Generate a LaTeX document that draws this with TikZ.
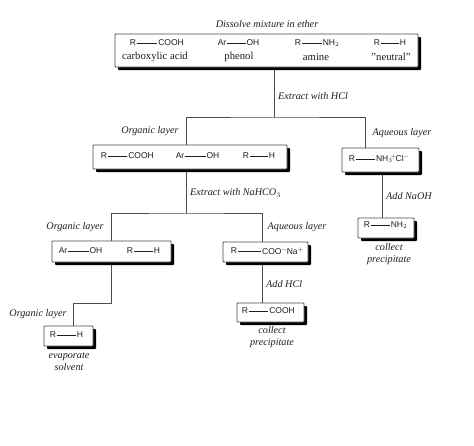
\documentclass[tikz,border=0pt]{standalone}
\usepackage{fontspec}
\setmainfont{Liberation Serif}
\setsansfont{Liberation Sans}
\usetikzlibrary{shadows,backgrounds,calc}
\definecolor{ink}{gray}{0.12}
\definecolor{wire}{gray}{0.3}
\tikzset{
  panel/.style={draw=wire,line width=0.9pt,fill=white,inner sep=0pt,rounded corners=0.8pt,
    drop shadow={shadow xshift=3pt,shadow yshift=-3pt,fill=black,opacity=1}},
  chem/.style={font=\sffamily\fontsize{8.5}{10}\selectfont,text=ink,inner sep=0.6pt},
  plain/.style={font=\fontsize{10.7}{12}\selectfont,text=ink,inner sep=0pt},
  note/.style={font=\itshape\fontsize{10.2}{12}\selectfont,text=ink,inner sep=0pt},
  notel/.style={note,anchor=west},
  bond/.style={draw=ink,line width=0.7pt},
  wirel/.style={draw=wire,line width=0.9pt}
}
% box: name, left, top, right, bottom
\newcommand{\panelbox}[5]{\path let \n1={#4-#2},\n2={#5-#3} in node[panel,minimum width=\n1 pt,minimum height=\n2 pt] (#1) at ({(#2+#4)/2},{(#3+#5)/2}) {};}
% formula: name, y, xL, textL, xR, textR
\newcommand{\formula}[6]{\node[chem] (#1L) at (#3,#2) {#4};\node[chem] (#1R) at (#5,#2) {#6};\draw[bond] (#1L.east) -- (#1R.west);}
\begin{document}
\begin{tikzpicture}[x=1pt,y=-1pt]
\useasboundingbox (0,0) rectangle (474,445);
\panelbox{a}{115}{34}{418}{67}
\panelbox{b}{93}{145}{287}{169}
\panelbox{c}{342}{148}{419}{172}
\panelbox{d}{358}{218}{414}{238}
\panelbox{e}{52}{241}{171}{262}
\panelbox{f}{223}{242}{308}{262}
\panelbox{g}{237}{303}{304}{322}
\panelbox{h}{44}{326}{93}{346}
\coordinate (j1) at (274,117);
\coordinate (j2) at (186,213);
\coordinate (j3) at (111,303);
\coordinate (xc) at (365,0);
\coordinate (xf) at (262,0);
\coordinate (xd) at (382,0);
\coordinate (xh) at (73,0);
\begin{scope}[on background layer]
\fill[white] (0,0) rectangle (474,445);
\draw[wirel] (a.south -| j1) -- (j1);
\draw[wirel] (b.north -| j2) |- (j1) -| (c.north -| xc);
\draw[wirel] (b.south -| j2) -- (j2);
\draw[wirel] (e.north -| j3) |- (j2) -| (f.north -| xf);
\draw[wirel] (c.south -| xd) -- (d.north -| xd);
\draw[wirel] (e.south -| j3) -- (j3) -| (h.north -| xh);
\draw[wirel] (f.south -| xf) -- (g.north -| xf);
\end{scope}
\node[note] (t0) at (267,24) {Dissolve mixture in ether};
\formula{a1}{43}{133}{R}{171}{COOH}
\formula{a2}{43}{222}{Ar}{253}{OH}
\formula{a3}{43}{298}{R}{331}{NH$_2$}
\formula{a4}{43}{377}{R}{403}{H}
\node[plain] (n1) at (155,57) {carboxylic acid};
\node[plain] (n2) at (239,57) {phenol};
\node[plain] (n3) at (316,57) {amine};
\node[plain] (n4) at (391,57) {\char34 neutral\char34};
\node[notel] (t1) at (278,96) {Extract with HCl};
\node[note] (t2) at (150,131) {Organic layer};
\node[note] (t3) at (402,133) {Aqueous layer};
\formula{b1}{156}{104}{R}{141}{COOH}
\formula{b2}{156}{180}{Ar}{213}{OH}
\formula{b3}{156}{246}{R}{272}{H}
\formula{c1}{159}{352}{R}{393}{NH$_3$\kern-2pt$^+$\kern-1pt Cl$^-$}
\node[notel] (t4) at (190,193) {Extract with NaHCO$_3$};
\node[notel] (t5) at (386,196) {Add NaOH};
\formula{d1}{225}{367}{R}{399}{NH$_2$}
\node[note,align=center,text width=60pt] (t6) at (389,254) {collect\\precipitate};
\node[note] (t7) at (75,227) {Organic layer};
\node[note] (t8) at (297,227) {Aqueous layer};
\formula{e1}{251}{63}{Ar}{96}{OH}
\formula{e2}{251}{130}{R}{157}{H}
\formula{f1}{251}{234}{R}{283}{COO$^-$\kern-1pt Na$^+$}
\node[notel] (t9) at (266,284) {Add HCl};
\formula{g1}{311}{245}{R}{282}{COOH}
\node[note,align=center,text width=60pt] (t10) at (272,337) {collect\\precipitate};
\node[note] (t11) at (38,314) {Organic layer};
\formula{h1}{335}{53}{R}{80}{H}
\node[note,align=center,text width=60pt] (t12) at (69,361.5) {evaporate\\solvent};
\end{tikzpicture}
\end{document}
